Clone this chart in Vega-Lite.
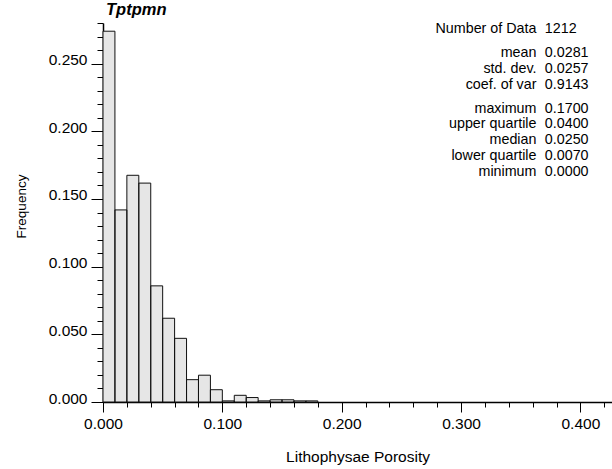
{
  "$schema": "https://vega.github.io/schema/vega-lite/v6.json",
  "width": 509,
  "height": 379,
  "autosize": {"type": "none"},
  "padding": {"left": 103, "top": 23, "right": 0, "bottom": 67},
  "background": "white",
  "title": {
    "text": "Tptpmn",
    "anchor": "start",
    "frame": "group",
    "offset": 4,
    "dx": 3,
    "font": "Liberation Sans",
    "fontSize": 16.5,
    "fontStyle": "italic",
    "fontWeight": "bold",
    "color": "#000"
  },
  "datasets": {
    "bins": [
      {"bin_start": 0.00, "bin_end": 0.01, "freq": 0.27393},
      {"bin_start": 0.01, "bin_end": 0.02, "freq": 0.14191},
      {"bin_start": 0.02, "bin_end": 0.03, "freq": 0.16749},
      {"bin_start": 0.03, "bin_end": 0.04, "freq": 0.16172},
      {"bin_start": 0.04, "bin_end": 0.05, "freq": 0.08581},
      {"bin_start": 0.05, "bin_end": 0.06, "freq": 0.06188},
      {"bin_start": 0.06, "bin_end": 0.07, "freq": 0.04703},
      {"bin_start": 0.07, "bin_end": 0.08, "freq": 0.01650},
      {"bin_start": 0.08, "bin_end": 0.09, "freq": 0.01980},
      {"bin_start": 0.09, "bin_end": 0.10, "freq": 0.00908},
      {"bin_start": 0.10, "bin_end": 0.11, "freq": 0.000825},
      {"bin_start": 0.11, "bin_end": 0.12, "freq": 0.00495},
      {"bin_start": 0.12, "bin_end": 0.13, "freq": 0.00330},
      {"bin_start": 0.13, "bin_end": 0.14, "freq": 0.000825},
      {"bin_start": 0.14, "bin_end": 0.15, "freq": 0.00165},
      {"bin_start": 0.15, "bin_end": 0.16, "freq": 0.00165},
      {"bin_start": 0.16, "bin_end": 0.17, "freq": 0.000825},
      {"bin_start": 0.17, "bin_end": 0.18, "freq": 0.000825}
    ],
    "stats": [
      {"label": "Number of Data", "value": "1212", "section": 1},
      {"label": "mean", "value": "0.0281", "section": 2},
      {"label": "std. dev.", "value": "0.0257", "section": 2},
      {"label": "coef. of var", "value": "0.9143", "section": 2},
      {"label": "maximum", "value": "0.1700", "section": 3},
      {"label": "upper quartile", "value": "0.0400", "section": 3},
      {"label": "median", "value": "0.0250", "section": 3},
      {"label": "lower quartile", "value": "0.0070", "section": 3},
      {"label": "minimum", "value": "0.0000", "section": 3}
    ]
  },
  "config": {
    "view": {"stroke": null},
    "axis": {
      "grid": false,
      "domainColor": "#000",
      "domainWidth": 1.5,
      "tickColor": "#000",
      "tickWidth": 1,
      "labelColor": "#000",
      "titleColor": "#000",
      "labelFont": "Liberation Sans",
      "titleFont": "Liberation Sans",
      "labelFlush": false,
      "labelOverlap": false
    }
  },
  "resolve": {
    "scale": {"y": "independent"},
    "axis": {"x": "independent", "y": "independent"}
  },
  "layer": [
    {
      "data": {"name": "bins"},
      "mark": {"type": "bar", "fill": "#e6e6e6", "strokeWidth": 0},
      "encoding": {
        "x": {
          "field": "bin_start",
          "type": "quantitative",
          "scale": {"domain": [0, 0.4265], "nice": false, "zero": false},
          "axis": {
            "orient": "bottom",
            "values": [0, 0.02, 0.04, 0.06, 0.08, 0.1, 0.12, 0.14, 0.16, 0.18, 0.2, 0.22, 0.24, 0.26, 0.28, 0.3, 0.32, 0.34, 0.36, 0.38, 0.4, 0.42],
            "tickSize": 5,
            "labels": false,
            "title": null
          }
        },
        "x2": {"field": "bin_end"},
        "y": {
          "field": "freq",
          "type": "quantitative",
          "scale": {"domain": [0, 0.28], "nice": false},
          "axis": {
            "orient": "left",
            "values": [0, 0.01, 0.02, 0.03, 0.04, 0.05, 0.06, 0.07, 0.08, 0.09, 0.1, 0.11, 0.12, 0.13, 0.14, 0.15, 0.16, 0.17, 0.18, 0.19, 0.2, 0.21, 0.22, 0.23, 0.24, 0.25, 0.26, 0.27, 0.28],
            "tickSize": 6,
            "labels": false,
            "title": null
          }
        },
        "y2": {"datum": 0}
      }
    },
    {
      "data": {"name": "bins"},
      "mark": {"type": "bar", "fillOpacity": 0, "stroke": "#111", "strokeWidth": 1},
      "encoding": {
        "x": {
          "field": "bin_start",
          "type": "quantitative",
          "scale": {"domain": [0, 0.4265], "nice": false, "zero": false},
          "axis": {
            "orient": "bottom",
            "values": [0, 0.1, 0.2, 0.3, 0.4],
            "format": ".3f",
            "tickSize": 10,
            "labelPadding": 4,
            "labelFontSize": 15.5,
            "domain": false,
            "title": "Lithophysae Porosity",
            "titleFontSize": 15.5,
            "titleFontWeight": "normal",
            "titleBaseline": "alphabetic",
            "titleY": 59
          }
        },
        "x2": {"field": "bin_end"},
        "y": {
          "field": "freq",
          "type": "quantitative",
          "scale": {"domain": [0, 0.28], "nice": false},
          "axis": {
            "orient": "left",
            "values": [0, 0.05, 0.1, 0.15, 0.2, 0.25],
            "format": ".3f",
            "tickSize": 12,
            "labelPadding": 4,
            "labelFontSize": 15.5,
            "labelBaseline": "alphabetic",
            "labelOffset": 1,
            "domain": false,
            "title": "Frequency",
            "titleFontSize": 13.5,
            "titleFontWeight": "normal",
            "titleAngle": 270,
            "titleAlign": "center",
            "titleBaseline": "alphabetic",
            "titleX": -77.5,
            "titleY": 183
          }
        },
        "y2": {"datum": 0}
      }
    },
    {
      "data": {"name": "stats"},
      "mark": {"type": "text", "align": "right", "baseline": "alphabetic", "font": "Liberation Sans", "fontSize": 14.3, "color": "#000"},
      "encoding": {
        "x": {"datum": 0.3632, "type": "quantitative", "scale": {"domain": [0, 0.4265], "nice": false, "zero": false}, "axis": null},
        "y": {"field": "label", "type": "ordinal", "sort": null, "scale": {"type": "point", "range": [10.3, 137.1], "padding": 0}, "axis": null},
        "yOffset": {"field": "section", "type": "quantitative", "scale": {"domain": [1, 3], "range": [0, 15.8]}},
        "text": {"field": "label"}
      }
    },
    {
      "data": {"name": "stats"},
      "mark": {"type": "text", "align": "left", "baseline": "alphabetic", "font": "Liberation Sans", "fontSize": 14.3, "color": "#000"},
      "encoding": {
        "x": {"datum": 0.3702, "type": "quantitative", "scale": {"domain": [0, 0.4265], "nice": false, "zero": false}, "axis": null},
        "y": {"field": "label", "type": "ordinal", "sort": null, "scale": {"type": "point", "range": [10.3, 137.1], "padding": 0}, "axis": null},
        "yOffset": {"field": "section", "type": "quantitative", "scale": {"domain": [1, 3], "range": [0, 15.8]}},
        "text": {"field": "value"}
      }
    }
  ]
}
